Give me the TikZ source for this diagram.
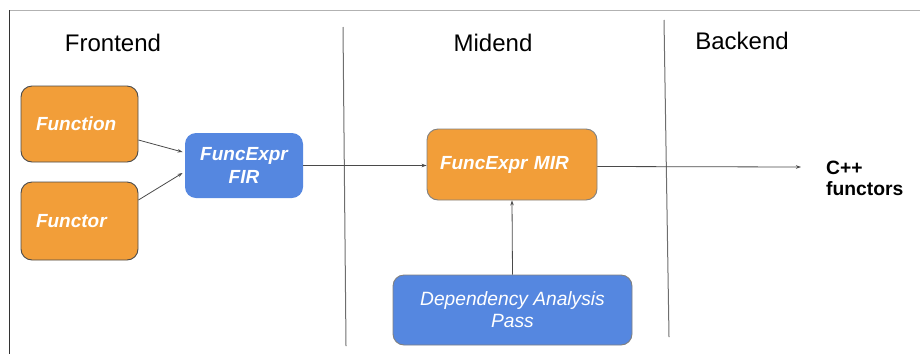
\documentclass[tikz,border=0pt]{standalone}
\usepackage{fontspec}
\setmainfont{Liberation Sans}
\usetikzlibrary{arrows.meta}
\definecolor{boxorange}{HTML}{F29E39}
\definecolor{boxblue}{HTML}{5587E0}
\definecolor{edgegray}{HTML}{4A4A4A}
\tikzset{
  box/.style={rounded corners=11pt, draw=edgegray, line width=0.9pt, inner sep=0pt,
              text=white, font=\fontsize{19}{23}\selectfont\bfseries\itshape},
  orangebox/.style={box, fill=boxorange},
  bluebox/.style={box, fill=boxblue},
  header/.style={font=\fontsize{24}{28}\selectfont, text=black},
  flow/.style={draw=edgegray, line width=0.8pt, -{Stealth[length=5pt,width=3.5pt]}},
  divider/.style={draw=edgegray!80, line width=1pt}
}
\begin{document}
\begin{tikzpicture}[x=1pt,y=-1pt]
\useasboundingbox (0,0) rectangle (920,354);
% page frame
\draw[gray!60, line width=1pt] (9,10) -- (920,10);
\draw[black!80, line width=1pt] (9,10) -- (9,354);
% stage dividers
\draw[divider] (343,27) -- (346,346);
\draw[divider] (664,20) -- (669,337);
% stage headings
\node[header] (hfront) at (113,43) {Frontend};
\node[header] (hmid) at (493,43) {Midend};
\node[header] (hback) at (742,41) {Backend};
% frontend
\node[orangebox, minimum width=117pt, minimum height=76pt, text width=87pt, align=left]
  (fn) at (79.5,124) {Function};
\node[orangebox, minimum width=117pt, minimum height=78pt, text width=87pt, align=left]
  (ft) at (79.5,221) {Functor};
\node[bluebox, draw=none, minimum width=118pt, minimum height=65pt, align=center]
  (fir) at (244,165.5) {FuncExpr\\FIR};
% midend
\node[orangebox, draw=edgegray!70, minimum width=170pt, minimum height=71pt, text width=144pt, align=left]
  (mir) at (512,164.5) {FuncExpr MIR};
\node[bluebox, draw=edgegray!70, minimum width=239pt, minimum height=70pt, align=center,
  font=\fontsize{19.2}{22}\selectfont\itshape]
  (dep) at (512.5,310) {Dependency Analysis\\Pass};
% backend output
\node[anchor=west, align=left, inner sep=0pt, font=\fontsize{19.3}{21}\selectfont\bfseries]
  (out) at (826,178) {C++\\functors};
\coordinate (outend) at (801,167);
% connectors
\draw[flow] ([yshift=-16pt]fn.east) -- ([xshift=-2pt,yshift=13.5pt]fir.west);
\draw[flow] ([yshift=21pt]ft.east) -- ([xshift=-2pt,yshift=-7.5pt]fir.west);
\draw[flow] (fir.east) -- (mir.west |- fir.east);
\draw[flow] ([yshift=-2pt]mir.east) -- (outend);
\draw[flow] (dep.north) -- (mir.south);
\end{tikzpicture}
\end{document}
